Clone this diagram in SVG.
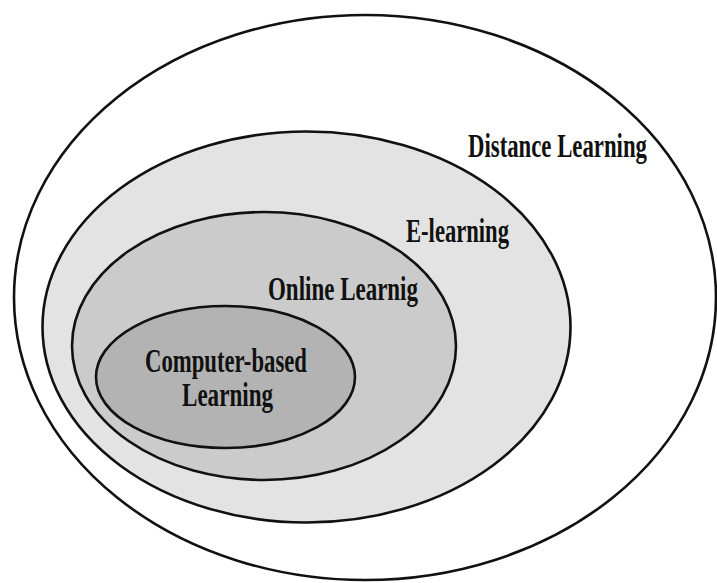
<svg xmlns="http://www.w3.org/2000/svg" width="717" height="583" viewBox="0 0 717 583">
<style>
.ring{stroke:#111;stroke-width:2.6}
.lbl{font-family:"Liberation Serif","Times New Roman",serif;font-weight:bold;font-size:34px;fill:#111}
</style>
<rect width="717" height="583" fill="#fff"/>
<g id="distance-learning">
<ellipse class="ring" cx="365" cy="297.5" rx="351" ry="282.5" fill="#fff"/>
<text class="lbl" x="468" y="157" textLength="179" lengthAdjust="spacingAndGlyphs">Distance Learning</text>
</g>
<g id="e-learning">
<ellipse class="ring" cx="306.5" cy="327" rx="264" ry="195.5" fill="#e3e3e3"/>
<text class="lbl" x="406" y="242" textLength="103" lengthAdjust="spacingAndGlyphs">E-learning</text>
</g>
<g id="online-learning">
<ellipse class="ring" cx="264" cy="346" rx="192" ry="134" fill="#cbcbcb"/>
<text class="lbl" x="268" y="300" textLength="150" lengthAdjust="spacingAndGlyphs">Online Learnig</text>
</g>
<g id="computer-based-learning">
<ellipse class="ring" cx="225.5" cy="377" rx="129.5" ry="71" fill="#b3b3b3"/>
<text class="lbl" x="145" y="372" textLength="162" lengthAdjust="spacingAndGlyphs">Computer-based</text>
<text class="lbl" x="182" y="406" textLength="91" lengthAdjust="spacingAndGlyphs">Learning</text>
</g>
<g id="connectors"/>
</svg>
